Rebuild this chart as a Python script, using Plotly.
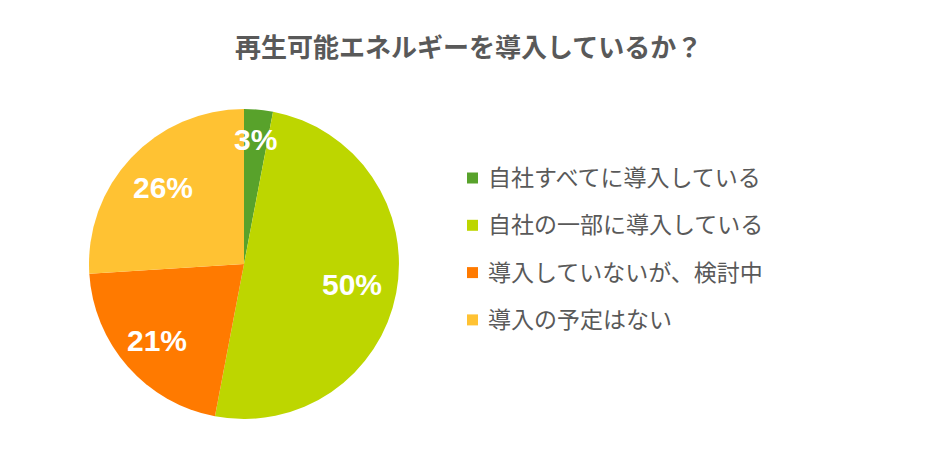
import math
import plotly.graph_objects as go

# ---- data ----
labels = ["自社すべてに導入している", "自社の一部に導入している", "導入していないが、検討中", "導入の予定はない"]
values = [3, 50, 21, 26]
title_text = "再生可能エネルギーを導入しているか？"

# ---- style ----
colors = ["#58A22B", "#BDD600", "#FF7A00", "#FFC233"]
label_radius = [0.81, 0.71, 0.75, 0.72]
W, H = 947, 454
CX, CY, R = 244, 264, 155
JP = "Noto Sans CJK JP, Noto Sans, sans-serif"
TXT = "#595959"

fig = go.Figure(go.Pie(
    labels=labels, values=values, sort=False, direction="clockwise", rotation=0,
    marker=dict(colors=colors, line=dict(width=0)),
    textinfo="none", hoverinfo="label+percent", showlegend=False,
    domain=dict(x=[(CX - R) / W, (CX + R) / W], y=[1 - (CY + R) / H, 1 - (CY - R) / H]),
))

ann = []
total = sum(values)
cum = 0
for v, rf in zip(values, label_radius):
    mid = (cum + v / 2) / total * 2 * math.pi
    cum += v
    px = CX + rf * R * math.sin(mid)
    py = CY - rf * R * math.cos(mid)
    ann.append(dict(x=px / W, y=1 - py / H, xref="paper", yref="paper",
                    text=f"<b>{round(v / total * 100)}%</b>", showarrow=False,
                    font=dict(family="Liberation Sans, Arial, sans-serif", size=30, color="white"),
                    xanchor="center", yanchor="middle"))

# manual legend
shapes = []
LX, LY0, DY, SQ = 467, 178, 47.3, 11
for i, (lab, c) in enumerate(zip(labels, colors)):
    yc = LY0 + i * DY
    shapes.append(dict(type="rect", xref="paper", yref="paper",
                       x0=LX / W, x1=(LX + SQ) / W, y0=1 - (yc + SQ / 2) / H, y1=1 - (yc - SQ / 2) / H,
                       fillcolor=c, line=dict(width=0)))
    ann.append(dict(x=(LX + SQ + 8) / W, y=1 - (yc - 2) / H, xref="paper", yref="paper",
                    text=lab, showarrow=False, xanchor="left", yanchor="middle",
                    font=dict(family=JP, size=23, color=TXT)))

ann.append(dict(x=468 / W, y=1 - 45 / H, xref="paper", yref="paper", text=f"<b>{title_text}</b>",
                showarrow=False, xanchor="center", yanchor="middle",
                font=dict(family=JP, size=26, color=TXT)))

fig.update_layout(width=W, height=H, margin=dict(l=0, r=0, t=0, b=0),
                  paper_bgcolor="white", plot_bgcolor="white",
                  annotations=ann, shapes=shapes)
fig.write_html("out.html")
